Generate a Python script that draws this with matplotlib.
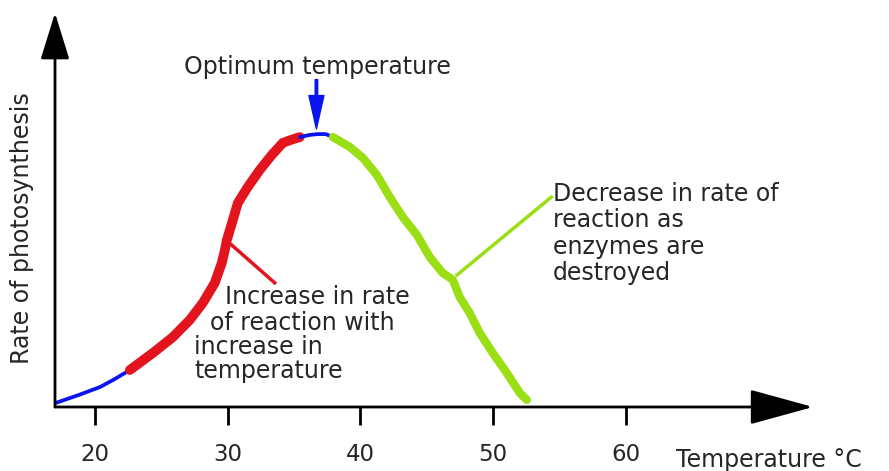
import matplotlib.pyplot as plt

# curve pieces (temperature in degC, rate in arbitrary units, peak ~100)
temp_low = [17.06, 18.8, 20.4, 21.5, 22.64]
rate_low = [1.5, 4.4, 7.3, 10.2, 13.5]

temp_rise = [22.64, 24.37, 25.88, 27.16, 28.14, 29.04, 29.57, 29.80, 29.95, 30.40,
             30.78, 31.53, 32.43, 33.34, 34.17, 34.85, 35.45]
rate_rise = [13.5, 19.7, 25.5, 31.8, 38.0, 45.3, 52.6, 57.3, 60.9, 68.2,
             74.5, 80.3, 86.5, 92.0, 96.4, 97.6, 98.5]

temp_top = [35.45, 36.2, 36.8, 37.4, 37.94]
rate_top = [98.5, 99.3, 99.6, 99.6, 98.5]

temp_fall = [37.94, 39.22, 40.20, 41.25, 42.23, 43.21, 44.27, 45.24, 46.22, 46.98,
             47.50, 48.25, 49.01, 49.99, 51.05, 52.03, 52.55]
rate_fall = [98.5, 94.9, 90.9, 84.7, 76.6, 69.3, 62.8, 54.7, 48.9, 46.4,
             40.1, 34.3, 27.0, 19.7, 12.4, 5.1, 2.6]

xticks = [20, 30, 40, 50, 60]
optimum_temp = 36.7

BLUE = "#0a14f0"
RED = "#e3141e"
GREEN = "#9ade14"
TXT = "#262626"
FS = 17

fig = plt.figure(figsize=(8.89, 4.71), dpi=100)
ax = fig.add_axes([55 / 889, 64 / 471, (813 - 55) / 889, (407 - 13) / 471])
ax.set_xlim(17, 17 + (813 - 55) / 13.27)
ax.set_ylim(0, (407 - 13) / 2.74)

for s in ["top", "right", "left", "bottom"]:
    ax.spines[s].set_visible(False)

# axes drawn as arrows
ax.annotate("", xy=(1, 0), xytext=(0, 0), xycoords="axes fraction",
            arrowprops=dict(arrowstyle="-|>,head_length=4,head_width=1.1", mutation_scale=10,
                            lw=2, color="black", shrinkA=0, shrinkB=0))
ax.annotate("", xy=(0, 1), xytext=(0, 0), xycoords="axes fraction",
            arrowprops=dict(arrowstyle="-|>,head_length=2.9,head_width=0.9", mutation_scale=10,
                            lw=2, color="black", shrinkA=0, shrinkB=0))

ax.set_xticks(xticks)
ax.set_xticklabels([str(t) for t in xticks])
ax.tick_params(axis="x", direction="out", length=13, width=2, pad=13, labelsize=16.5, labelcolor=TXT)
ax.set_yticks([])

# the curve
ax.plot(temp_low, rate_low, color=BLUE, lw=2.7, solid_capstyle="round", solid_joinstyle="round")
ax.plot(temp_rise, rate_rise, color=RED, lw=7, solid_capstyle="round", solid_joinstyle="round")
ax.plot(temp_top, rate_top, color=BLUE, lw=2.7, solid_capstyle="round", solid_joinstyle="round")
ax.plot(temp_fall, rate_fall, color=GREEN, lw=6, solid_capstyle="round", solid_joinstyle="round")

# optimum marker
ax.annotate("", xy=(optimum_temp, 101.5), xytext=(optimum_temp, 119.5),
            arrowprops=dict(arrowstyle="simple,head_length=2.0,head_width=0.9,tail_width=0.15",
                            mutation_scale=12, color=BLUE, shrinkA=0, shrinkB=0))
ax.text(36.8, 124.1, "Optimum temperature", ha="center", va="center", fontsize=FS, color=TXT)

# pointer lines
ax.plot([30.32, 33.56], [59.1, 45.3], color=RED, lw=2.5)
ax.plot([47.3, 54.4], [48.2, 76.6], color=GREEN, lw=2.5)

# rising annotation
ax.text(29.8, 40.1, "Increase in rate", ha="left", va="center", fontsize=FS, color=TXT)
ax.text(28.7, 30.7, "of reaction with", ha="left", va="center", fontsize=FS, color=TXT)
ax.text(27.5, 21.9, "increase in", ha="left", va="center", fontsize=FS, color=TXT)
ax.text(27.5, 13.1, "temperature", ha="left", va="center", fontsize=FS, color=TXT)

# falling annotation
ax.text(54.5, 63.3, "Decrease in rate of\nreaction as\nenzymes are\ndestroyed",
        ha="left", va="center", fontsize=FS, color=TXT, linespacing=1.12)

ax.set_ylabel("Rate of photosynthesis", fontsize=FS, color=TXT, va="center")
ax.yaxis.set_label_coords(-33 / 758, (407 - 228) / 394)
ax.set_xlabel("Temperature \u00b0C", fontsize=FS, color=TXT, ha="left", va="center")
ax.xaxis.set_label_coords((676 - 55) / 758, (407 - 460) / 394)

fig.savefig("out.png", dpi=100)
